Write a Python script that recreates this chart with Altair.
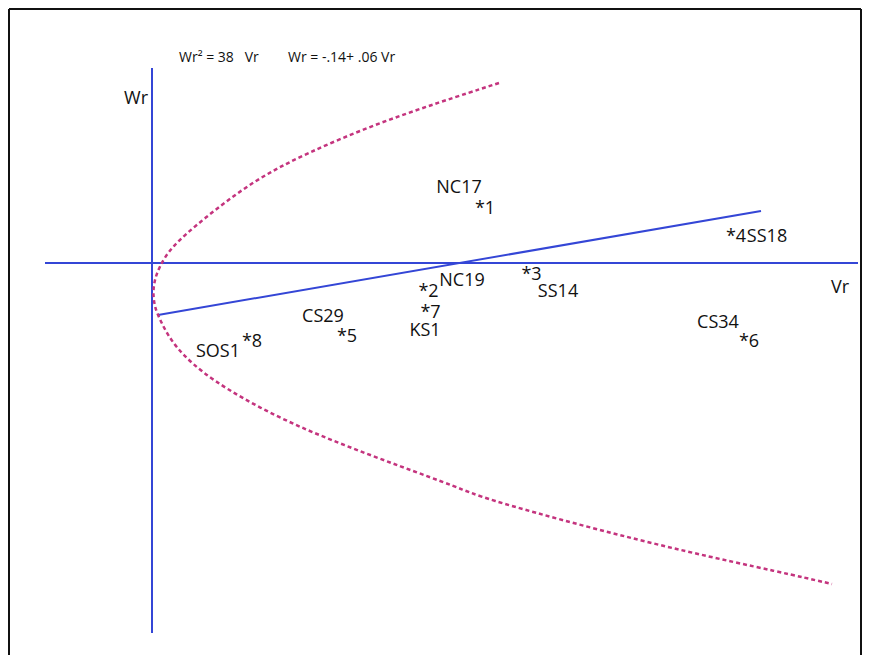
import altair as alt
import pandas as pd

# ---------------- data (Vr, Wr in chart units) ----------------
point_ids = ["1", "2", "3", "4", "5", "6", "7", "8"]
point_names = ["NC17", "NC19", "SS14", "SS18", "CS29", "CS34", "KS1", "SOS1"]
point_vr = [3.33, 2.765, 3.795, 5.84, 1.95, 5.97, 2.785, 1.00]
point_wr = [0.49, -0.34, -0.17, 0.21, -0.79, -0.84, -0.55, -0.84]

# limiting parabola
parab_vr = [3.47, 2.88, 2.21, 1.55, 1.02, 0.50, 0.19, 0.07, 0.02, 0.01, 0.03, 0.08,
            0.22, 0.58, 1.24, 1.86, 2.50, 3.05, 3.30, 4.35, 5.35, 6.28, 6.80]
parab_wr = [1.80, 1.61, 1.38, 1.10, 0.83, 0.43, 0.16, -0.04, -0.19, -0.32, -0.45, -0.57,
            -0.84, -1.17, -1.54, -1.80, -2.04, -2.24, -2.35, -2.64, -2.89, -3.09, -3.21]

# regression line end points
reg_vr = [0.06, 6.09]
reg_wr = [-0.52, 0.52]

# axis lines extent
haxis_vr = [-1.07, 7.06]
vaxis_wr = [1.95, -3.70]

eq_texts = ["Wr\u00b2 = 38\u00a0\u00a0\u00a0Vr", "Wr = -.14+ .06 Vr"]

# ---------------- style ----------------
BLUE = "#3446d6"
MAGENTA = "#c4347e"
FONT = "Open Sans"
W, H = 852, 646
PX = 100.0  # pixels per chart unit
XDOM = [-1.43, -1.43 + W / PX]
YDOM = [2.54 - H / PX, 2.54]

# label offsets in pixels (dx, dy) relative to the point marker
label_off = {
    "NC17": (-26, -21), "NC19": (33.5, -11), "SS14": (26.5, 17), "SS18": (31, 0),
    "CS29": (-24, -20), "CS34": (-31, -19), "KS1": (-5.5, 18), "SOS1": (-34, 10),
}

xs = alt.Scale(domain=XDOM, nice=False, zero=False)
ys = alt.Scale(domain=YDOM, nice=False, zero=False)


def X(f="vr"):
    return alt.X(f"{f}:Q", scale=xs, axis=None)


def Y(f="wr"):
    return alt.Y(f"{f}:Q", scale=ys, axis=None)


axes_df = pd.DataFrame({
    "vr": [haxis_vr[0], 0.0], "vr2": [haxis_vr[1], 0.0],
    "wr": [0.0, vaxis_wr[0]], "wr2": [0.0, vaxis_wr[1]],
})
axes = alt.Chart(axes_df).mark_rule(color=BLUE, strokeWidth=2).encode(
    x=X(), x2="vr2:Q", y=Y(), y2="wr2:Q")

reg = alt.Chart(pd.DataFrame({"vr": reg_vr, "wr": reg_wr})).mark_line(
    color=BLUE, strokeWidth=2).encode(x=X(), y=Y())

parab_df = pd.DataFrame({"vr": parab_vr, "wr": parab_wr, "o": range(len(parab_vr))})
parab = alt.Chart(parab_df).mark_line(
    color=MAGENTA, strokeWidth=2.5, strokeDash=[4, 3], interpolate="basis"
).encode(x=X(), y=Y(), order="o:Q")

pts_df = pd.DataFrame({"vr": point_vr, "wr": point_wr,
                       "t": ["*" + i for i in point_ids]})
markers = alt.Chart(pts_df).mark_text(
    font=FONT, fontSize=18, color="#111", align="center", baseline="alphabetic"
).encode(x=X(), y=Y(), text="t:N")

lab_df = pd.DataFrame({
    "vr": [v + label_off[n][0] / PX for v, n in zip(point_vr, point_names)],
    "wr": [w - label_off[n][1] / PX for w, n in zip(point_wr, point_names)],
    "t": point_names,
})
labels = alt.Chart(lab_df).mark_text(
    font=FONT, fontSize=18, color="#111", align="center", baseline="alphabetic"
).encode(x=X(), y=Y(), text="t:N")

axlab_df = pd.DataFrame({"vr": [6.88, -0.16], "wr": [-0.30, 1.59], "t": ["Vr", "Wr"]})
axlabels = alt.Chart(axlab_df).mark_text(
    font=FONT, fontSize=18, color="#111", align="center", baseline="alphabetic"
).encode(x=X(), y=Y(), text="t:N")

eq_df = pd.DataFrame({"vr": [0.27, 1.36], "wr": [2.01, 2.01], "t": eq_texts})
eqs = alt.Chart(eq_df).mark_text(
    font=FONT, fontSize=14, color="#111", align="left", baseline="alphabetic"
).encode(x=X(), y=Y(), text="t:N")

one = alt.Data(values=[{}])
border_top = alt.Chart(one).mark_rule(color="#111", strokeWidth=2).encode(
    x=alt.value(0), x2=alt.value(W), y=alt.value(0))
border_left = alt.Chart(one).mark_rule(color="#111", strokeWidth=2).encode(
    x=alt.value(0), y=alt.value(0), y2=alt.value(H + 2))
border_right = alt.Chart(one).mark_rule(color="#111", strokeWidth=2).encode(
    x=alt.value(W), y=alt.value(0), y2=alt.value(H + 2))

chart = alt.layer(
    axes, reg, parab, markers, labels, axlabels, eqs,
    border_top, border_left, border_right
).properties(
    width=W, height=H,
    autosize=alt.AutoSizeParams(type="none"),
    padding={"left": 1, "top": 1, "right": 1, "bottom": 0},
    background="white",
).configure_view(strokeWidth=0)

chart.save("out.html", embed_options={"renderer": "svg", "actions": False})
